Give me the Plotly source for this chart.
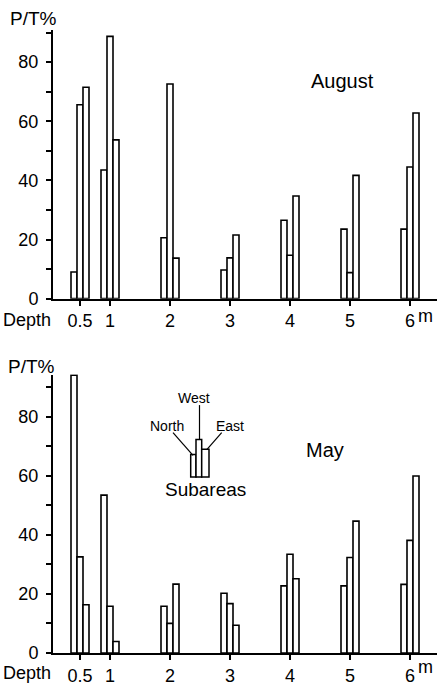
import plotly.graph_objects as go

# ---- data ----
depths = [0.5, 1, 2, 3, 4, 5, 6]
tick_labels = ["0.5", "1", "2", "3", "4", "5", "6"]
subareas = ["North", "West", "East"]

aug_north = [9, 43.5, 20.6, 9.7, 26.5, 23.5, 23.5]
aug_west = [65.6, 88.7, 72.6, 13.8, 14.7, 8.8, 44.5]
aug_east = [71.5, 53.7, 13.7, 21.5, 34.7, 41.7, 62.8]

may_north = [94, 53.4, 15.8, 20.2, 22.7, 22.7, 23.2]
may_west = [32.5, 15.8, 10, 16.7, 33.4, 32.3, 38.1]
may_east = [16.3, 3.9, 23.3, 9.4, 25.1, 44.6, 59.9]

y_ticks = [0, 20, 40, 60, 80]

W, H = 437, 696
FONT = "Liberation Sans"


def px(x):
    return x / W


def py(y):
    return 1 - y / H


fig = go.Figure()

for vals, name in zip([aug_north, aug_west, aug_east], subareas):
    fig.add_trace(go.Bar(x=depths, y=vals, name=name, xaxis="x", yaxis="y",
                         marker=dict(color="white", line=dict(color="black", width=1.6)),
                         showlegend=False))
for vals, name in zip([may_north, may_west, may_east], subareas):
    fig.add_trace(go.Bar(x=depths, y=vals, name=name, xaxis="x2", yaxis="y2",
                         marker=dict(color="white", line=dict(color="black", width=1.6)),
                         showlegend=False))

xcommon = dict(range=[0.05, 6.45], domain=[px(53), 1], showline=True, linecolor="black",
               linewidth=2, ticks="outside", ticklen=5, tickwidth=1.5, tickcolor="black",
               tickvals=depths, ticktext=tick_labels, showgrid=False, zeroline=False,
               tickfont=dict(family=FONT, size=18, color="black"))
ycommon = dict(showline=True, linecolor="black", linewidth=2, ticks="outside", ticklen=5,
               tickwidth=1.5, tickcolor="black", tickvals=y_ticks, showgrid=False,
               zeroline=False, ticklabelstandoff=4,
               minor=dict(dtick=10, ticks="outside", ticklen=5, tickwidth=1.5, tickcolor="black"),
               tickfont=dict(family=FONT, size=18, color="black"))

annotations = []


def text(t, x, y, size, xanchor="center"):
    annotations.append(dict(text=t, x=px(x), y=py(y), xref="paper", yref="paper",
                            xanchor=xanchor, yanchor="middle", showarrow=False,
                            font=dict(family=FONT, size=size, color="black")))


text("P/T%", 8, 19, 19, "left")
text("P/T%", 6, 372, 19, "left")
text("Depth", 1, 325, 18, "left")
text("Depth", 1, 683, 18, "left")
text("m", 416, 321, 18, "left")
text("m", 416, 677, 18, "left")
text("August", 342, 82, 20)
text("May", 325, 457, 20)
text("West", 193.5, 404, 14)
text("North", 166.5, 432, 14)
text("East", 230, 432, 14)
text("Subareas", 205, 497, 19)

shapes = []
# subarea key glyph
key_bottom = 484
key_edges = [190.7, 196, 201.7, 209]
key_tops = [461, 446, 455.7]
for i in range(3):
    shapes.append(dict(type="rect", xref="paper", yref="paper",
                       x0=px(key_edges[i]), x1=px(key_edges[i + 1]),
                       y0=py(key_bottom), y1=py(key_tops[i]),
                       line=dict(color="black", width=1.5), fillcolor="white"))
leaders = [((173, 439), (193, 462)), ((199.5, 411), (199.5, 446)), ((221.7, 439), (207, 456))]
for (x0, y0), (x1, y1) in leaders:
    shapes.append(dict(type="line", xref="paper", yref="paper",
                       x0=px(x0), y0=py(y0), x1=px(x1), y1=py(y1),
                       line=dict(color="black", width=1.2)))

fig.update_layout(
    width=W, height=H, margin=dict(l=0, r=0, t=0, b=0),
    paper_bgcolor="white", plot_bgcolor="white",
    barmode="group", bargap=0.4, bargroupgap=0,
    xaxis=dict(**xcommon, anchor="y"),
    yaxis=dict(**ycommon, range=[0, 91], domain=[py(303), py(30)], anchor="x"),
    xaxis2=dict(**xcommon, anchor="y2"),
    yaxis2=dict(**ycommon, range=[0, 94.2], domain=[py(662.5), py(380)], anchor="x2"),
    annotations=annotations, shapes=shapes,
)

fig.write_html("out.html")
